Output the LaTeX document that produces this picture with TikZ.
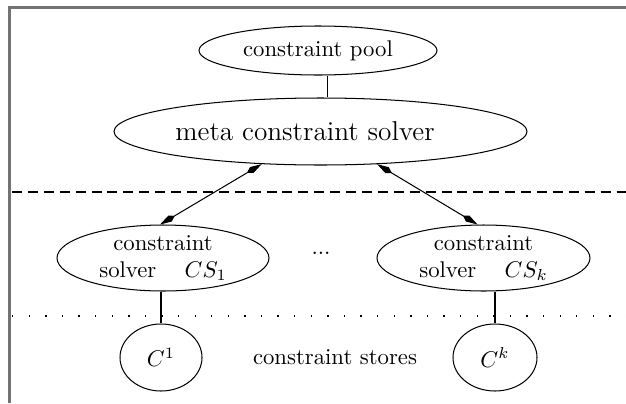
\documentclass[tikz,border=0pt]{standalone}
\usetikzlibrary{arrows.meta,shapes.geometric}
\begin{document}
\begin{tikzpicture}[x=0.44pt, y=-0.44pt,
  oval/.style={draw, ellipse, inner sep=0pt, line width=0.45pt},
  link/.style={line width=0.45pt},
  kite/.tip={Kite[length=7.5pt,width=3pt,inset=2.4pt]},
  both/.style={line width=0.45pt, kite-kite},
  frameline/.style={draw=black!55, line width=0.9pt},
]
\useasboundingbox (0,0) rectangle (626,403);
% open frame: left and top edges only
\draw[frameline] (9.5,403) -- (9.5,7.5) -- (626,7.5);
% layer separators
\draw[line width=0.45pt, dash pattern=on 4.4pt off 2.6pt] (12,192) -- (626,192);
\draw[line width=0.6pt, dash pattern=on 0.6pt off 6.7pt] (12,316) -- (626,316);

% top layer
\node[oval, minimum width=238*0.44pt, minimum height=49*0.44pt] (pool) at (318,50.5) {constraint pool};
\node[oval, minimum width=413*0.44pt, minimum height=67*0.44pt] (meta) at (320.5,131.5) {};
\node (metatext) at (305,131.5) {\large meta constraint solver};

% solver layer
\node[oval, align=center, minimum width=212*0.44pt, minimum height=66*0.44pt] (cs1) at (163,258) {constraint\\solver\hspace{12.5pt}$CS_1$};
\node[oval, align=center, minimum width=213*0.44pt, minimum height=66*0.44pt] (csk) at (483.5,258) {constraint\\solver\hspace{12.5pt}$CS_k$};
\node (dots) at (321,253) {...};

% store layer
\node[oval, minimum width=82*0.44pt, minimum height=67*0.44pt] (c1) at (161,357.5) {$C^1$};
\node[oval, minimum width=84*0.44pt, minimum height=67*0.44pt] (ck) at (495,357.5) {$C^k$};
\node (stores) at (335,357.5) {constraint stores};

% connectors
\draw[link] ([xshift=4pt]pool.south) -- ([xshift=4pt]pool.south |- meta.north);
\draw[both] (meta.209) -- (cs1.95);
\draw[both] (meta.330) -- (csk.100);
\draw[link] (cs1.south -| c1.north) -- (c1.north);
\draw[link] (ck.north |- csk.south) -- (ck.north);
\end{tikzpicture}
\end{document}
